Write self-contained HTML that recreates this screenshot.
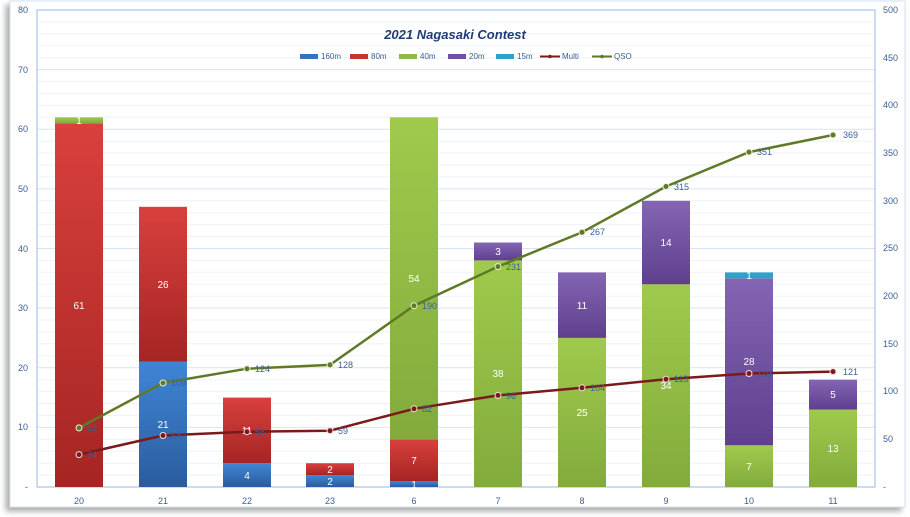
<!DOCTYPE html>
<html><head><meta charset="utf-8"><style>
body{margin:0;background:#fff;}
svg{display:block;font-family:"Liberation Sans",sans-serif;}
</style></head><body>
<svg width="910" height="517" viewBox="0 0 910 517">
<defs>
<linearGradient id="r" x1="0" y1="0" x2="0" y2="1"><stop offset="0" stop-color="#d8403d"/><stop offset="1" stop-color="#a52523"/></linearGradient>
<linearGradient id="b" x1="0" y1="0" x2="0" y2="1"><stop offset="0" stop-color="#3f86d6"/><stop offset="1" stop-color="#2a5c9e"/></linearGradient>
<linearGradient id="g" x1="0" y1="0" x2="0" y2="1"><stop offset="0" stop-color="#9fca4c"/><stop offset="1" stop-color="#82ab3c"/></linearGradient>
<linearGradient id="p" x1="0" y1="0" x2="0" y2="1"><stop offset="0" stop-color="#8465b4"/><stop offset="1" stop-color="#5f408e"/></linearGradient>
<filter id="sh" x="-5%" y="-5%" width="110%" height="110%"><feDropShadow dx="-4" dy="4" stdDeviation="3" flood-color="#777" flood-opacity="0.6"/></filter>
</defs>
<rect x="10" y="1" width="895" height="506" fill="#fff" stroke="#d6e2f0" filter="url(#sh)"/>
<g stroke="#eef2f8" stroke-width="1">
<line x1="37" x2="875" y1="475.1" y2="475.1"/><line x1="37" x2="875" y1="463.2" y2="463.2"/><line x1="37" x2="875" y1="451.2" y2="451.2"/><line x1="37" x2="875" y1="439.3" y2="439.3"/>
<line x1="37" x2="875" y1="415.4" y2="415.4"/><line x1="37" x2="875" y1="403.5" y2="403.5"/><line x1="37" x2="875" y1="391.6" y2="391.6"/><line x1="37" x2="875" y1="379.7" y2="379.7"/>
<line x1="37" x2="875" y1="355.8" y2="355.8"/><line x1="37" x2="875" y1="343.9" y2="343.9"/><line x1="37" x2="875" y1="331.9" y2="331.9"/><line x1="37" x2="875" y1="320" y2="320"/>
<line x1="37" x2="875" y1="296.2" y2="296.2"/><line x1="37" x2="875" y1="284.2" y2="284.2"/><line x1="37" x2="875" y1="272.3" y2="272.3"/><line x1="37" x2="875" y1="260.4" y2="260.4"/>
<line x1="37" x2="875" y1="236.5" y2="236.5"/><line x1="37" x2="875" y1="224.6" y2="224.6"/><line x1="37" x2="875" y1="212.7" y2="212.7"/><line x1="37" x2="875" y1="200.8" y2="200.8"/>
<line x1="37" x2="875" y1="176.9" y2="176.9"/><line x1="37" x2="875" y1="165" y2="165"/><line x1="37" x2="875" y1="153" y2="153"/><line x1="37" x2="875" y1="141.1" y2="141.1"/>
<line x1="37" x2="875" y1="117.3" y2="117.3"/><line x1="37" x2="875" y1="105.3" y2="105.3"/><line x1="37" x2="875" y1="93.4" y2="93.4"/><line x1="37" x2="875" y1="81.5" y2="81.5"/>
<line x1="37" x2="875" y1="57.7" y2="57.7"/><line x1="37" x2="875" y1="45.8" y2="45.8"/><line x1="37" x2="875" y1="33.8" y2="33.8"/><line x1="37" x2="875" y1="21.9" y2="21.9"/>
</g>
<g stroke="#d9e4f3" stroke-width="1">
<line x1="37" x2="875" y1="427.4" y2="427.4"/><line x1="37" x2="875" y1="367.8" y2="367.8"/><line x1="37" x2="875" y1="308.1" y2="308.1"/><line x1="37" x2="875" y1="248.5" y2="248.5"/><line x1="37" x2="875" y1="188.9" y2="188.9"/><line x1="37" x2="875" y1="129.3" y2="129.3"/><line x1="37" x2="875" y1="69.6" y2="69.6"/>
</g>
<rect x="37" y="10" width="838" height="477" fill="none" stroke="#9ab8e0" stroke-width="1"/>
<g font-size="9" fill="#3b5f94" text-anchor="end">
<text x="28" y="13">80</text><text x="28" y="73">70</text><text x="28" y="132">60</text><text x="28" y="192">50</text><text x="28" y="252">40</text><text x="28" y="311">30</text><text x="28" y="371">20</text><text x="28" y="430">10</text><text x="28" y="490">-</text>
</g>
<g font-size="9" fill="#3b5f94" text-anchor="start">
<text x="883" y="13">500</text><text x="883" y="61">450</text><text x="883" y="108">400</text><text x="883" y="156">350</text><text x="883" y="204">300</text><text x="883" y="251">250</text><text x="883" y="299">200</text><text x="883" y="347">150</text><text x="883" y="394">100</text><text x="883" y="442">50</text><text x="883" y="490">-</text>
</g>
<g font-size="9" fill="#3b5f94" text-anchor="middle">
<text x="79" y="504">20</text><text x="163" y="504">21</text><text x="247" y="504">22</text><text x="330" y="504">23</text><text x="414" y="504">6</text><text x="498" y="504">7</text><text x="582" y="504">8</text><text x="666" y="504">9</text><text x="749" y="504">10</text><text x="833" y="504">11</text>
</g>
<!-- bars -->
<g>
<rect x="55" y="123.3" width="48" height="363.7" fill="url(#r)"/><rect x="55" y="117.3" width="48" height="6" fill="url(#g)"/>
<rect x="139" y="361.8" width="48" height="125.2" fill="url(#b)"/><rect x="139" y="206.8" width="48" height="155" fill="url(#r)"/>
<rect x="223" y="463.2" width="48" height="23.8" fill="url(#b)"/><rect x="223" y="397.6" width="48" height="65.6" fill="url(#r)"/>
<rect x="306" y="475.1" width="48" height="11.9" fill="url(#b)"/><rect x="306" y="463.2" width="48" height="11.9" fill="url(#r)"/>
<rect x="390" y="481" width="48" height="6" fill="url(#b)"/><rect x="390" y="439.3" width="48" height="41.7" fill="url(#r)"/><rect x="390" y="117.3" width="48" height="322" fill="url(#g)"/>
<rect x="474" y="260.4" width="48" height="226.6" fill="url(#g)"/><rect x="474" y="242.5" width="48" height="17.9" fill="url(#p)"/>
<rect x="558" y="337.9" width="48" height="149.1" fill="url(#g)"/><rect x="558" y="272.4" width="48" height="65.5" fill="url(#p)"/>
<rect x="642" y="284.3" width="48" height="202.7" fill="url(#g)"/><rect x="642" y="200.8" width="48" height="83.5" fill="url(#p)"/>
<rect x="725" y="445.3" width="48" height="41.7" fill="url(#g)"/><rect x="725" y="278.3" width="48" height="167" fill="url(#p)"/><rect x="725" y="272.4" width="48" height="5.9" fill="#2aa3c6"/>
<rect x="809" y="409.5" width="48" height="77.5" fill="url(#g)"/><rect x="809" y="379.7" width="48" height="29.8" fill="url(#p)"/>
</g>
<g font-size="10" fill="#fff" text-anchor="middle">
<text x="79" y="309">61</text><text x="79" y="124">1</text>
<text x="163" y="428">21</text><text x="163" y="288">26</text>
<text x="247" y="479">4</text><text x="247" y="434">11</text>
<text x="330" y="485">2</text><text x="330" y="473">2</text>
<text x="414" y="488">1</text><text x="414" y="464">7</text><text x="414" y="282">54</text>
<text x="498" y="377">38</text><text x="498" y="255">3</text>
<text x="582" y="416">25</text><text x="582" y="309">11</text>
<text x="666" y="389">34</text><text x="666" y="246">14</text>
<text x="749" y="470">7</text><text x="749" y="365">28</text><text x="749" y="279">1</text>
<text x="833" y="452">13</text><text x="833" y="398">5</text>
</g>
<!-- lines -->
<polyline fill="none" stroke="#5f7a26" stroke-width="2.5" points="79,427.9 163,383 247,368.7 330,364.9 414,305.7 498,266.6 582,232.3 666,186.5 749,152.1 833,135"/>
<polyline fill="none" stroke="#7a1a1a" stroke-width="2.5" points="79,454.6 163,435.5 247,431.7 330,430.7 414,408.8 498,395.4 582,387.8 666,379.2 749,373.5 833,371.6"/>
<g fill="#5f7a26" stroke="#e8f0d8" stroke-width="1">
<circle cx="79" cy="427.9" r="3"/><circle cx="163" cy="383" r="3"/><circle cx="247" cy="368.7" r="3"/><circle cx="330" cy="364.9" r="3"/><circle cx="414" cy="305.7" r="3"/><circle cx="498" cy="266.6" r="3"/><circle cx="582" cy="232.3" r="3"/><circle cx="666" cy="186.5" r="3"/><circle cx="749" cy="152.1" r="3"/><circle cx="833" cy="135" r="3"/>
</g>
<g fill="#7a1a1a" stroke="#f0dede" stroke-width="1">
<circle cx="79" cy="454.6" r="3"/><circle cx="163" cy="435.5" r="3"/><circle cx="247" cy="431.7" r="3"/><circle cx="330" cy="430.7" r="3"/><circle cx="414" cy="408.8" r="3"/><circle cx="498" cy="395.4" r="3"/><circle cx="582" cy="387.8" r="3"/><circle cx="666" cy="379.2" r="3"/><circle cx="749" cy="373.5" r="3"/><circle cx="833" cy="371.6" r="3"/>
</g>
<g font-size="9" fill="#3b5f94">
<text x="87" y="431">62</text><text x="171" y="386">109</text><text x="255" y="372">124</text><text x="338" y="368">128</text><text x="422" y="309">190</text><text x="506" y="270">231</text><text x="590" y="235">267</text><text x="674" y="190">315</text><text x="757" y="155">351</text><text x="843" y="138">369</text>
<text x="87" y="458">34</text><text x="171" y="439">54</text><text x="255" y="435">58</text><text x="338" y="434">59</text><text x="422" y="412">82</text><text x="506" y="399">96</text><text x="590" y="391">104</text><text x="674" y="382">113</text><text x="757" y="377">119</text><text x="843" y="375">121</text>
</g>
<!-- title & legend -->
<text x="455" y="39" text-anchor="middle" font-size="13" font-weight="bold" font-style="italic" fill="#1f3c74">2021 Nagasaki Contest</text>
<g font-size="8" fill="#3b5f94">
<rect x="300" y="54" width="18" height="5" fill="#3572c0"/><text x="321" y="59">160m</text>
<rect x="350" y="54" width="18" height="5" fill="#c83332"/><text x="371" y="59">80m</text>
<rect x="399" y="54" width="18" height="5" fill="#8eb944"/><text x="420" y="59">40m</text>
<rect x="448" y="54" width="18" height="5" fill="#7050a0"/><text x="469" y="59">20m</text>
<rect x="496" y="54" width="18" height="5" fill="#2aa3c6"/><text x="517" y="59">15m</text>
<line x1="540" x2="560" y1="56.5" y2="56.5" stroke="#7a1a1a" stroke-width="2"/><circle cx="550" cy="56.5" r="1.8" fill="#7a1a1a"/><text x="562" y="59">Multi</text>
<line x1="592" x2="612" y1="56.5" y2="56.5" stroke="#5f7a26" stroke-width="2"/><circle cx="602" cy="56.5" r="1.8" fill="#5f7a26"/><text x="614" y="59">QSO</text>
</g>
</svg>
</body></html>
